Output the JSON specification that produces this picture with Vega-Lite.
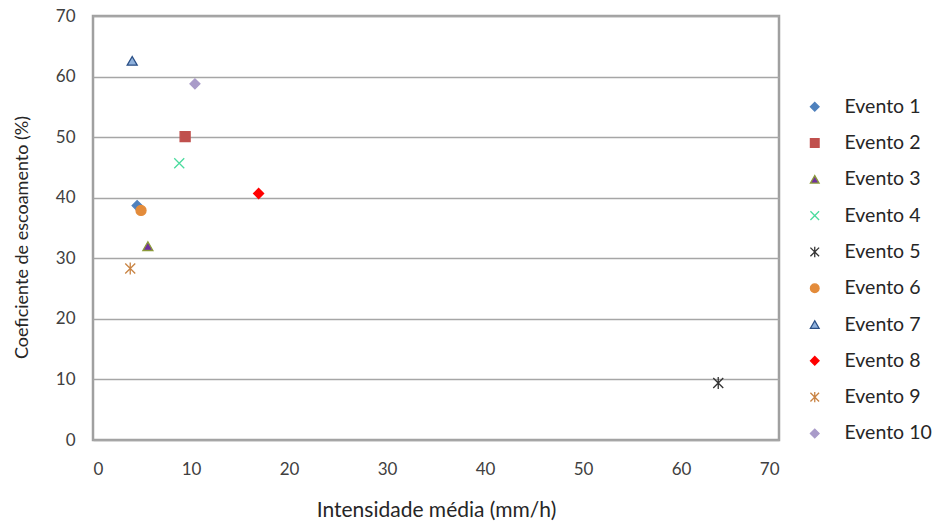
{
  "$schema": "https://vega.github.io/schema/vega-lite/v6.json",
  "autosize": {"type": "none"},
  "padding": {"left": 93, "top": 16, "right": 160, "bottom": 84},
  "width": 686,
  "height": 424,
  "background": "white",
  "data": {"values": [
    {"evento": "Evento 1", "x": 4.5, "y": 38.7},
    {"evento": "Evento 2", "x": 9.4, "y": 50.1},
    {"evento": "Evento 3", "x": 5.6, "y": 32.0},
    {"evento": "Evento 4", "x": 8.8, "y": 45.7},
    {"evento": "Evento 5", "x": 63.8, "y": 9.4},
    {"evento": "Evento 6", "x": 4.9, "y": 37.9},
    {"evento": "Evento 7", "x": 4.0, "y": 62.6},
    {"evento": "Evento 8", "x": 16.9, "y": 40.7},
    {"evento": "Evento 9", "x": 3.8, "y": 28.3},
    {"evento": "Evento 10", "x": 10.4, "y": 58.8}
  ]},
  "mark": {"type": "point", "filled": true, "opacity": 1, "strokeWidth": 1.3, "size": 100},
  "encoding": {
    "x": {"field": "x", "type": "quantitative", "scale": {"domain": [0, 70], "nice": false},
      "axis": {"title": "Intensidade média (mm/h)", "titleFontSize": 21, "values": [0,10,20,30,40,50,60,70], "grid": false, "domain": false, "ticks": false, "labelPadding": 21, "titlePadding": 22}},
    "y": {"field": "y", "type": "quantitative", "scale": {"domain": [0, 70], "nice": false},
      "axis": {"title": "Coeficiente de escoamento (%)", "titleY": 221, "values": [0,10,20,30,40,50,60,70], "grid": true, "domain": false, "ticks": false, "labelPadding": 18, "titlePadding": 24}},
    "shape": {"field": "evento", "type": "nominal",
      "scale": {"domain": ["Evento 1","Evento 2","Evento 3","Evento 4","Evento 5","Evento 6","Evento 7","Evento 8","Evento 9","Evento 10"],
        "range": ["diamond","square","triangle-up","M-1,-1L1,1M1,-1L-1,1","M-1,-1L1,1M1,-1L-1,1M0,-1.2L0,1.2","circle","triangle-up","diamond","M-1,-1L1,1M1,-1L-1,1M0,-1.2L0,1.2","diamond"]},
      "legend": {"title": null, "orient": "none", "legendX": 712, "legendY": 81}},
    "fill": {"field": "evento", "type": "nominal",
      "scale": {"domain": ["Evento 1","Evento 2","Evento 3","Evento 4","Evento 5","Evento 6","Evento 7","Evento 8","Evento 9","Evento 10"],
        "range": ["#4F81BD","#C0504D","#7030A0","#4BDB9E","#333333","#E38B3A","#8FB1DC","#FF0000","#C98444","#A99BC9"]},
      "legend": {"title": null, "orient": "none", "legendX": 712, "legendY": 81}},
    "stroke": {"field": "evento", "type": "nominal",
      "scale": {"domain": ["Evento 1","Evento 2","Evento 3","Evento 4","Evento 5","Evento 6","Evento 7","Evento 8","Evento 9","Evento 10"],
        "range": ["#4F81BD","#C0504D","#8C9A3A","#4BDB9E","#333333","#E38B3A","#2A4F86","#FF0000","#C98444","#A99BC9"]},
      "legend": {"title": null, "orient": "none", "legendX": 712, "legendY": 81}}
  },
  "config": {
    "font": "Lato",
    "view": {"stroke": "#A0A0A0", "strokeWidth": 2.5},
    "axis": {"labelFont": "Lato", "labelFontSize": 17, "labelColor": "#404040", "titleFont": "Lato", "titleFontSize": 18, "titleFontWeight": "normal", "titleColor": "#262626", "gridColor": "#A6A6A6", "gridWidth": 1.5, "gridOpacity": 1},
    "legend": {"labelFont": "Lato", "labelFontSize": 19.5, "labelColor": "#262626", "symbolSize": 75, "labelOffset": 20, "rowPadding": 15.3, "symbolStrokeWidth": 1.3, "symbolOpacity": 1}
  }
}
